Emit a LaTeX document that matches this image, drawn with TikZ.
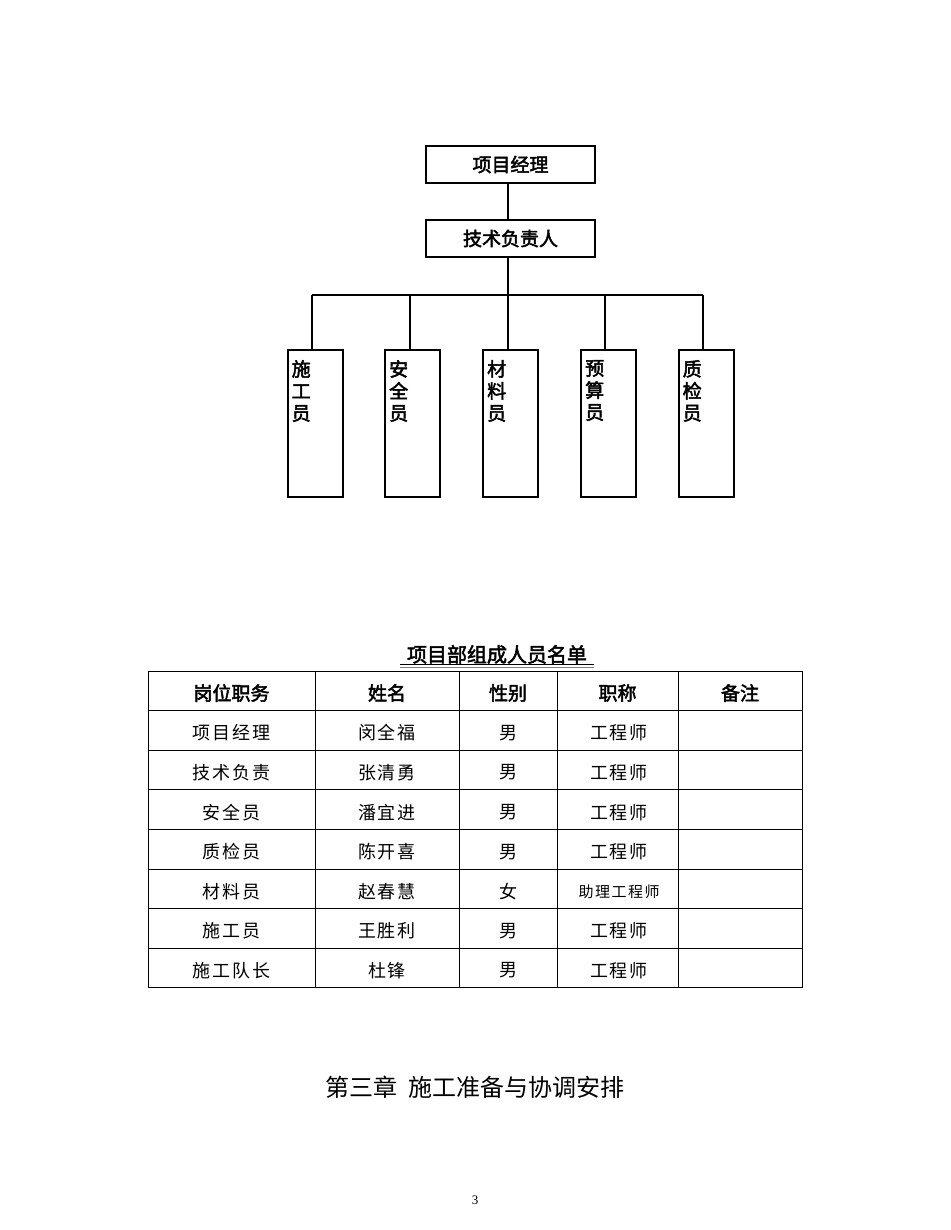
\documentclass[tikz,border=0pt]{standalone}
\usepackage{fontspec}
\setmainfont{Liberation Serif}
\newfontfamily\cjk{Noto Sans CJK SC}
\newfontfamily\cjkb{Noto Sans CJK SC}[FakeBold=2.5]
\begin{document}
\begin{tikzpicture}[x=1pt,y=-1pt,
 bx/.style={draw,line width=2pt},
 ln/.style={line width=2pt},
 hd/.style={font=\cjkb\fontsize{19}{22}\selectfont},
 cl/.style={font=\cjk\fontsize{18}{22}\selectfont},
 tl/.style={line width=0.8pt}]
\useasboundingbox[fill=white] (0,0) rectangle (950,1230);
\node[bx,minimum width=169,minimum height=37,hd] (pm) at (510.5,164.5) {项目经理};
\node[bx,minimum width=169,minimum height=37,hd] (tech) at (510.5,238.5) {技术负责人};
\draw[ln] (508,183) -- (508,220);
\coordinate (j) at (508,295);
\draw[ln] (508,257) -- (j);
\draw[ln] (312,295) -- (703,295);
\foreach \n/\x/\d/\t in {a/315/312/{施\\工\\员},b/412.5/410/{安\\全\\员},c/510.5/508/{材\\料\\员},d/608.5/605/{预\\算\\员},e/706/703/{质\\检\\员}}{
 \node[bx,minimum width=55,minimum height=147] (\n) at (\x,423.5) {};
 \node[hd,align=center,anchor=north west,inner sep=0pt] at ([xshift=5,yshift=-11]\n.north west) {\t};
 \draw[ln] (\d,350) -- (\d,295);
}
\node[font=\cjkb\fontsize{20}{22}\selectfont,anchor=base] (title) at (497,662) {项目部组成人员名单};
\draw[line width=1pt] (400,664.5) -- (594,664.5);
\draw[line width=1pt,gray] (400,667) -- (594,667);
\draw[tl] (148,671) rectangle (802,987);
\foreach \y in {710,750,789,829,869,908,948}{\draw[tl] (148,\y) -- (802,\y);}
\foreach \x in {315,459,557,678}{\draw[tl] (\x,671) -- (\x,987);}
\foreach \x/\t in {231.5/岗位职务,387/姓名,508/性别,617.5/职称,740/备注}{\node[hd] at (\x,693) {\t};}
\foreach \r/\a/\b/\c/\d in {0/项目经理/闵全福/男/工程师,1/技术负责/张清勇/男/工程师,2/安全员/潘宜进/男/工程师,3/质检员/陈开喜/男/工程师,4/材料员/赵春慧/女/{\fontsize{15}{18}\selectfont 助理工程师},5/施工员/王胜利/男/工程师,6/施工队长/杜锋/男/工程师}{
 \pgfmathsetmacro\yy{733+\r*39.6}
 \node[cl] at (231.5,\yy) {\addfontfeature{LetterSpace=10}\a};
 \node[cl] at (387,\yy) {\addfontfeature{LetterSpace=10}\b};
 \node[cl] at (508,\yy) {\c};
 \node[cl] at (619,\yy) {\addfontfeature{LetterSpace=10}\d};
}
\node[font=\cjk\fontsize{24}{28}\selectfont] (ch) at (475,1087) {第三章\ \ 施工准备与协调安排};
\node[font=\fontsize{13}{15}\selectfont] (pg) at (475,1200) {3};
\end{tikzpicture}
\end{document}
